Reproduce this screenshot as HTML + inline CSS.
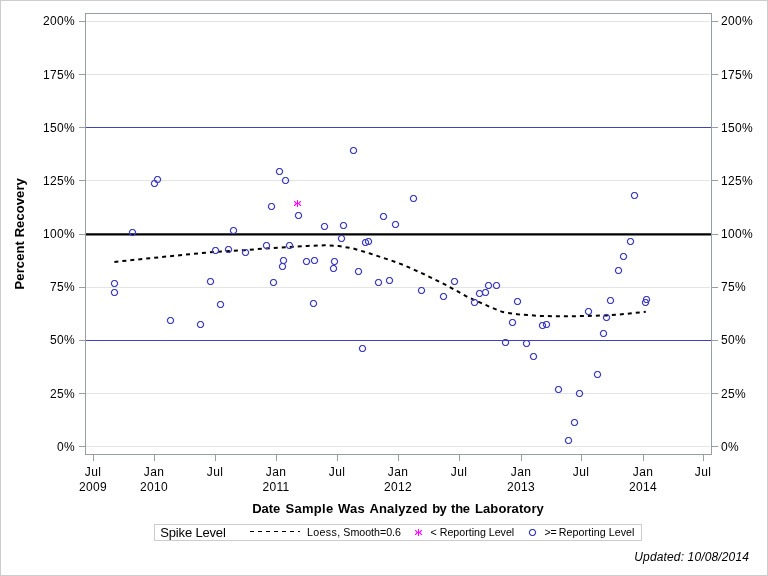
<!DOCTYPE html>
<html><head><meta charset="utf-8"><title>Percent Recovery</title>
<style>
html,body{margin:0;padding:0;background:#fff;}
body{width:768px;height:576px;overflow:hidden;}
svg{display:block;position:absolute;left:0;top:0;will-change:transform;}
text{font-family:"Liberation Sans",sans-serif;fill:#000;}
.tk{font-size:12px;letter-spacing:0.33px;}
.lg{font-size:10.67px;}
</style></head><body>
<svg width="768" height="576" viewBox="0 0 768 576">
<rect x="0" y="0" width="768" height="576" fill="#fff"/>
<rect x="0.5" y="0.5" width="767" height="575" fill="none" stroke="#cdcdcd" stroke-width="1" shape-rendering="crispEdges"/>

<g shape-rendering="crispEdges" stroke-width="1">
<line x1="86" x2="710" y1="446.5" y2="446.5" stroke="#e4e4e4"/>
<line x1="86" x2="710" y1="393.5" y2="393.5" stroke="#e4e4e4"/>
<line x1="86" x2="710" y1="287.5" y2="287.5" stroke="#e4e4e4"/>
<line x1="86" x2="710" y1="180.5" y2="180.5" stroke="#e4e4e4"/>
<line x1="86" x2="710" y1="74.5" y2="74.5" stroke="#e4e4e4"/>
<line x1="86" x2="710" y1="21.5" y2="21.5" stroke="#e4e4e4"/>
<line x1="86" x2="711" y1="340.5" y2="340.5" stroke="#4040c0"/>
<line x1="86" x2="711" y1="127.5" y2="127.5" stroke="#4040c0"/>
<line x1="86" x2="711" y1="234.35" y2="234.35" stroke="#000" stroke-width="2.1" shape-rendering="auto"/>
<rect x="85.5" y="13.5" width="626" height="441" fill="none" stroke="#989ea1"/>
<line x1="79" x2="85" y1="446.5" y2="446.5" stroke="#989ea1"/>
<line x1="712" x2="718" y1="446.5" y2="446.5" stroke="#989ea1"/>
<line x1="79" x2="85" y1="393.5" y2="393.5" stroke="#989ea1"/>
<line x1="712" x2="718" y1="393.5" y2="393.5" stroke="#989ea1"/>
<line x1="79" x2="85" y1="340.5" y2="340.5" stroke="#989ea1"/>
<line x1="712" x2="718" y1="340.5" y2="340.5" stroke="#989ea1"/>
<line x1="79" x2="85" y1="287.5" y2="287.5" stroke="#989ea1"/>
<line x1="712" x2="718" y1="287.5" y2="287.5" stroke="#989ea1"/>
<line x1="79" x2="85" y1="234.5" y2="234.5" stroke="#989ea1"/>
<line x1="712" x2="718" y1="234.5" y2="234.5" stroke="#989ea1"/>
<line x1="79" x2="85" y1="180.5" y2="180.5" stroke="#989ea1"/>
<line x1="712" x2="718" y1="180.5" y2="180.5" stroke="#989ea1"/>
<line x1="79" x2="85" y1="127.5" y2="127.5" stroke="#989ea1"/>
<line x1="712" x2="718" y1="127.5" y2="127.5" stroke="#989ea1"/>
<line x1="79" x2="85" y1="74.5" y2="74.5" stroke="#989ea1"/>
<line x1="712" x2="718" y1="74.5" y2="74.5" stroke="#989ea1"/>
<line x1="79" x2="85" y1="21.5" y2="21.5" stroke="#989ea1"/>
<line x1="712" x2="718" y1="21.5" y2="21.5" stroke="#989ea1"/>
<line x1="93.5" x2="93.5" y1="455" y2="461" stroke="#989ea1"/>
<line x1="154.5" x2="154.5" y1="455" y2="461" stroke="#989ea1"/>
<line x1="215.5" x2="215.5" y1="455" y2="461" stroke="#989ea1"/>
<line x1="276.5" x2="276.5" y1="455" y2="461" stroke="#989ea1"/>
<line x1="337.5" x2="337.5" y1="455" y2="461" stroke="#989ea1"/>
<line x1="398.5" x2="398.5" y1="455" y2="461" stroke="#989ea1"/>
<line x1="459.5" x2="459.5" y1="455" y2="461" stroke="#989ea1"/>
<line x1="521.5" x2="521.5" y1="455" y2="461" stroke="#989ea1"/>
<line x1="581.5" x2="581.5" y1="455" y2="461" stroke="#989ea1"/>
<line x1="643.5" x2="643.5" y1="455" y2="461" stroke="#989ea1"/>
<line x1="703.5" x2="703.5" y1="455" y2="461" stroke="#989ea1"/>
</g>
<text class="tk" x="75" y="451" text-anchor="end">0%</text>
<text class="tk" x="721" y="451">0%</text>
<text class="tk" x="75" y="398" text-anchor="end">25%</text>
<text class="tk" x="721" y="398">25%</text>
<text class="tk" x="75" y="344" text-anchor="end">50%</text>
<text class="tk" x="721" y="344">50%</text>
<text class="tk" x="75" y="291" text-anchor="end">75%</text>
<text class="tk" x="721" y="291">75%</text>
<text class="tk" x="75" y="238" text-anchor="end">100%</text>
<text class="tk" x="721" y="238">100%</text>
<text class="tk" x="75" y="185" text-anchor="end">125%</text>
<text class="tk" x="721" y="185">125%</text>
<text class="tk" x="75" y="132" text-anchor="end">150%</text>
<text class="tk" x="721" y="132">150%</text>
<text class="tk" x="75" y="79" text-anchor="end">175%</text>
<text class="tk" x="721" y="79">175%</text>
<text class="tk" x="75" y="25" text-anchor="end">200%</text>
<text class="tk" x="721" y="25">200%</text>
<text class="tk" x="93.0" y="476" text-anchor="middle">Jul</text>
<text class="tk" x="93.0" y="491" text-anchor="middle">2009</text>
<text class="tk" x="154.0" y="476" text-anchor="middle">Jan</text>
<text class="tk" x="154.0" y="491" text-anchor="middle">2010</text>
<text class="tk" x="215.0" y="476" text-anchor="middle">Jul</text>
<text class="tk" x="276.0" y="476" text-anchor="middle">Jan</text>
<text class="tk" x="276.0" y="491" text-anchor="middle">2011</text>
<text class="tk" x="337.0" y="476" text-anchor="middle">Jul</text>
<text class="tk" x="398.0" y="476" text-anchor="middle">Jan</text>
<text class="tk" x="398.0" y="491" text-anchor="middle">2012</text>
<text class="tk" x="459.0" y="476" text-anchor="middle">Jul</text>
<text class="tk" x="521.0" y="476" text-anchor="middle">Jan</text>
<text class="tk" x="521.0" y="491" text-anchor="middle">2013</text>
<text class="tk" x="581.0" y="476" text-anchor="middle">Jul</text>
<text class="tk" x="643.0" y="476" text-anchor="middle">Jan</text>
<text class="tk" x="643.0" y="491" text-anchor="middle">2014</text>
<text class="tk" x="703.0" y="476" text-anchor="middle">Jul</text>
<path d="M114.4,261.9 L150.0,258.2 L180.0,255.2 L215.0,251.8 L245.0,250.2 L265.8,248.4 L286.7,247.1 L307.5,245.9 L324.2,245.3 L338.8,246.0 L353.3,248.5 L370.0,253.5 L390.8,260.4 L405.0,265.6 L425.8,275.0 L446.7,285.4 L467.5,296.9 L488.3,306.2 L502.9,312.1 L517.5,314.3 L540.4,316.0 L565.0,316.3 L585.8,316.0 L606.7,315.4 L627.5,313.8 L645.8,311.7" fill="none" stroke="#000" stroke-width="2" stroke-dasharray="4,4"/>
<g fill="none" stroke="#4040c0" stroke-width="1.2" stroke-linejoin="round">
<path d="M153.35,180.5 L155.65,180.5 L157.5,182.35 L157.5,184.65 L155.65,186.5 L153.35,186.5 L151.5,184.65 L151.5,182.35Z"/>
<path d="M156.35,176.5 L158.65,176.5 L160.5,178.35 L160.5,180.65 L158.65,182.5 L156.35,182.5 L154.5,180.65 L154.5,178.35Z"/>
<path d="M131.35,229.5 L133.65,229.5 L135.5,231.35 L135.5,233.65 L133.65,235.5 L131.35,235.5 L129.5,233.65 L129.5,231.35Z"/>
<path d="M232.35,227.5 L234.65,227.5 L236.5,229.35 L236.5,231.65 L234.65,233.5 L232.35,233.5 L230.5,231.65 L230.5,229.35Z"/>
<path d="M278.35,168.5 L280.65,168.5 L282.5,170.35 L282.5,172.65 L280.65,174.5 L278.35,174.5 L276.5,172.65 L276.5,170.35Z"/>
<path d="M284.35,177.5 L286.65,177.5 L288.5,179.35 L288.5,181.65 L286.65,183.5 L284.35,183.5 L282.5,181.65 L282.5,179.35Z"/>
<path d="M270.35,203.5 L272.65,203.5 L274.5,205.35 L274.5,207.65 L272.65,209.5 L270.35,209.5 L268.5,207.65 L268.5,205.35Z"/>
<path d="M297.35,212.5 L299.65,212.5 L301.5,214.35 L301.5,216.65 L299.65,218.5 L297.35,218.5 L295.5,216.65 L295.5,214.35Z"/>
<path d="M352.35,147.5 L354.65,147.5 L356.5,149.35 L356.5,151.65 L354.65,153.5 L352.35,153.5 L350.5,151.65 L350.5,149.35Z"/>
<path d="M323.35,223.5 L325.65,223.5 L327.5,225.35 L327.5,227.65 L325.65,229.5 L323.35,229.5 L321.5,227.65 L321.5,225.35Z"/>
<path d="M342.35,222.5 L344.65,222.5 L346.5,224.35 L346.5,226.65 L344.65,228.5 L342.35,228.5 L340.5,226.65 L340.5,224.35Z"/>
<path d="M382.35,213.5 L384.65,213.5 L386.5,215.35 L386.5,217.65 L384.65,219.5 L382.35,219.5 L380.5,217.65 L380.5,215.35Z"/>
<path d="M394.35,221.5 L396.65,221.5 L398.5,223.35 L398.5,225.65 L396.65,227.5 L394.35,227.5 L392.5,225.65 L392.5,223.35Z"/>
<path d="M412.35,195.5 L414.65,195.5 L416.5,197.35 L416.5,199.65 L414.65,201.5 L412.35,201.5 L410.5,199.65 L410.5,197.35Z"/>
<path d="M633.35,192.5 L635.65,192.5 L637.5,194.35 L637.5,196.65 L635.65,198.5 L633.35,198.5 L631.5,196.65 L631.5,194.35Z"/>
<path d="M113.35,280.5 L115.65,280.5 L117.5,282.35 L117.5,284.65 L115.65,286.5 L113.35,286.5 L111.5,284.65 L111.5,282.35Z"/>
<path d="M113.35,289.5 L115.65,289.5 L117.5,291.35 L117.5,293.65 L115.65,295.5 L113.35,295.5 L111.5,293.65 L111.5,291.35Z"/>
<path d="M169.35,317.5 L171.65,317.5 L173.5,319.35 L173.5,321.65 L171.65,323.5 L169.35,323.5 L167.5,321.65 L167.5,319.35Z"/>
<path d="M199.35,321.5 L201.65,321.5 L203.5,323.35 L203.5,325.65 L201.65,327.5 L199.35,327.5 L197.5,325.65 L197.5,323.35Z"/>
<path d="M209.35,278.5 L211.65,278.5 L213.5,280.35 L213.5,282.65 L211.65,284.5 L209.35,284.5 L207.5,282.65 L207.5,280.35Z"/>
<path d="M219.35,301.5 L221.65,301.5 L223.5,303.35 L223.5,305.65 L221.65,307.5 L219.35,307.5 L217.5,305.65 L217.5,303.35Z"/>
<path d="M214.35,247.5 L216.65,247.5 L218.5,249.35 L218.5,251.65 L216.65,253.5 L214.35,253.5 L212.5,251.65 L212.5,249.35Z"/>
<path d="M227.35,246.5 L229.65,246.5 L231.5,248.35 L231.5,250.65 L229.65,252.5 L227.35,252.5 L225.5,250.65 L225.5,248.35Z"/>
<path d="M244.35,249.5 L246.65,249.5 L248.5,251.35 L248.5,253.65 L246.65,255.5 L244.35,255.5 L242.5,253.65 L242.5,251.35Z"/>
<path d="M265.35,242.5 L267.65,242.5 L269.5,244.35 L269.5,246.65 L267.65,248.5 L265.35,248.5 L263.5,246.65 L263.5,244.35Z"/>
<path d="M288.35,242.5 L290.65,242.5 L292.5,244.35 L292.5,246.65 L290.65,248.5 L288.35,248.5 L286.5,246.65 L286.5,244.35Z"/>
<path d="M282.35,257.5 L284.65,257.5 L286.5,259.35 L286.5,261.65 L284.65,263.5 L282.35,263.5 L280.5,261.65 L280.5,259.35Z"/>
<path d="M281.35,263.5 L283.65,263.5 L285.5,265.35 L285.5,267.65 L283.65,269.5 L281.35,269.5 L279.5,267.65 L279.5,265.35Z"/>
<path d="M272.35,279.5 L274.65,279.5 L276.5,281.35 L276.5,283.65 L274.65,285.5 L272.35,285.5 L270.5,283.65 L270.5,281.35Z"/>
<path d="M305.35,258.5 L307.65,258.5 L309.5,260.35 L309.5,262.65 L307.65,264.5 L305.35,264.5 L303.5,262.65 L303.5,260.35Z"/>
<path d="M313.35,257.5 L315.65,257.5 L317.5,259.35 L317.5,261.65 L315.65,263.5 L313.35,263.5 L311.5,261.65 L311.5,259.35Z"/>
<path d="M312.35,300.5 L314.65,300.5 L316.5,302.35 L316.5,304.65 L314.65,306.5 L312.35,306.5 L310.5,304.65 L310.5,302.35Z"/>
<path d="M333.35,258.5 L335.65,258.5 L337.5,260.35 L337.5,262.65 L335.65,264.5 L333.35,264.5 L331.5,262.65 L331.5,260.35Z"/>
<path d="M332.35,265.5 L334.65,265.5 L336.5,267.35 L336.5,269.65 L334.65,271.5 L332.35,271.5 L330.5,269.65 L330.5,267.35Z"/>
<path d="M340.35,235.5 L342.65,235.5 L344.5,237.35 L344.5,239.65 L342.65,241.5 L340.35,241.5 L338.5,239.65 L338.5,237.35Z"/>
<path d="M357.35,268.5 L359.65,268.5 L361.5,270.35 L361.5,272.65 L359.65,274.5 L357.35,274.5 L355.5,272.65 L355.5,270.35Z"/>
<path d="M364.35,239.5 L366.65,239.5 L368.5,241.35 L368.5,243.65 L366.65,245.5 L364.35,245.5 L362.5,243.65 L362.5,241.35Z"/>
<path d="M367.35,238.5 L369.65,238.5 L371.5,240.35 L371.5,242.65 L369.65,244.5 L367.35,244.5 L365.5,242.65 L365.5,240.35Z"/>
<path d="M377.35,279.5 L379.65,279.5 L381.5,281.35 L381.5,283.65 L379.65,285.5 L377.35,285.5 L375.5,283.65 L375.5,281.35Z"/>
<path d="M388.35,277.5 L390.65,277.5 L392.5,279.35 L392.5,281.65 L390.65,283.5 L388.35,283.5 L386.5,281.65 L386.5,279.35Z"/>
<path d="M420.35,287.5 L422.65,287.5 L424.5,289.35 L424.5,291.65 L422.65,293.5 L420.35,293.5 L418.5,291.65 L418.5,289.35Z"/>
<path d="M442.35,293.5 L444.65,293.5 L446.5,295.35 L446.5,297.65 L444.65,299.5 L442.35,299.5 L440.5,297.65 L440.5,295.35Z"/>
<path d="M453.35,278.5 L455.65,278.5 L457.5,280.35 L457.5,282.65 L455.65,284.5 L453.35,284.5 L451.5,282.65 L451.5,280.35Z"/>
<path d="M473.35,299.5 L475.65,299.5 L477.5,301.35 L477.5,303.65 L475.65,305.5 L473.35,305.5 L471.5,303.65 L471.5,301.35Z"/>
<path d="M478.35,290.5 L480.65,290.5 L482.5,292.35 L482.5,294.65 L480.65,296.5 L478.35,296.5 L476.5,294.65 L476.5,292.35Z"/>
<path d="M484.35,289.5 L486.65,289.5 L488.5,291.35 L488.5,293.65 L486.65,295.5 L484.35,295.5 L482.5,293.65 L482.5,291.35Z"/>
<path d="M487.35,282.5 L489.65,282.5 L491.5,284.35 L491.5,286.65 L489.65,288.5 L487.35,288.5 L485.5,286.65 L485.5,284.35Z"/>
<path d="M495.35,282.5 L497.65,282.5 L499.5,284.35 L499.5,286.65 L497.65,288.5 L495.35,288.5 L493.5,286.65 L493.5,284.35Z"/>
<path d="M516.35,298.5 L518.65,298.5 L520.5,300.35 L520.5,302.65 L518.65,304.5 L516.35,304.5 L514.5,302.65 L514.5,300.35Z"/>
<path d="M511.35,319.5 L513.65,319.5 L515.5,321.35 L515.5,323.65 L513.65,325.5 L511.35,325.5 L509.5,323.65 L509.5,321.35Z"/>
<path d="M541.35,322.5 L543.65,322.5 L545.5,324.35 L545.5,326.65 L543.65,328.5 L541.35,328.5 L539.5,326.65 L539.5,324.35Z"/>
<path d="M545.35,321.5 L547.65,321.5 L549.5,323.35 L549.5,325.65 L547.65,327.5 L545.35,327.5 L543.5,325.65 L543.5,323.35Z"/>
<path d="M504.35,339.5 L506.65,339.5 L508.5,341.35 L508.5,343.65 L506.65,345.5 L504.35,345.5 L502.5,343.65 L502.5,341.35Z"/>
<path d="M525.35,340.5 L527.65,340.5 L529.5,342.35 L529.5,344.65 L527.65,346.5 L525.35,346.5 L523.5,344.65 L523.5,342.35Z"/>
<path d="M629.35,238.5 L631.65,238.5 L633.5,240.35 L633.5,242.65 L631.65,244.5 L629.35,244.5 L627.5,242.65 L627.5,240.35Z"/>
<path d="M622.35,253.5 L624.65,253.5 L626.5,255.35 L626.5,257.65 L624.65,259.5 L622.35,259.5 L620.5,257.65 L620.5,255.35Z"/>
<path d="M617.35,267.5 L619.65,267.5 L621.5,269.35 L621.5,271.65 L619.65,273.5 L617.35,273.5 L615.5,271.65 L615.5,269.35Z"/>
<path d="M609.35,297.5 L611.65,297.5 L613.5,299.35 L613.5,301.65 L611.65,303.5 L609.35,303.5 L607.5,301.65 L607.5,299.35Z"/>
<path d="M645.35,296.5 L647.65,296.5 L649.5,298.35 L649.5,300.65 L647.65,302.5 L645.35,302.5 L643.5,300.65 L643.5,298.35Z"/>
<path d="M644.35,299.5 L646.65,299.5 L648.5,301.35 L648.5,303.65 L646.65,305.5 L644.35,305.5 L642.5,303.65 L642.5,301.35Z"/>
<path d="M587.35,308.5 L589.65,308.5 L591.5,310.35 L591.5,312.65 L589.65,314.5 L587.35,314.5 L585.5,312.65 L585.5,310.35Z"/>
<path d="M605.35,314.5 L607.65,314.5 L609.5,316.35 L609.5,318.65 L607.65,320.5 L605.35,320.5 L603.5,318.65 L603.5,316.35Z"/>
<path d="M602.35,330.5 L604.65,330.5 L606.5,332.35 L606.5,334.65 L604.65,336.5 L602.35,336.5 L600.5,334.65 L600.5,332.35Z"/>
<path d="M532.35,353.5 L534.65,353.5 L536.5,355.35 L536.5,357.65 L534.65,359.5 L532.35,359.5 L530.5,357.65 L530.5,355.35Z"/>
<path d="M557.35,386.5 L559.65,386.5 L561.5,388.35 L561.5,390.65 L559.65,392.5 L557.35,392.5 L555.5,390.65 L555.5,388.35Z"/>
<path d="M596.35,371.5 L598.65,371.5 L600.5,373.35 L600.5,375.65 L598.65,377.5 L596.35,377.5 L594.5,375.65 L594.5,373.35Z"/>
<path d="M578.35,390.5 L580.65,390.5 L582.5,392.35 L582.5,394.65 L580.65,396.5 L578.35,396.5 L576.5,394.65 L576.5,392.35Z"/>
<path d="M573.35,419.5 L575.65,419.5 L577.5,421.35 L577.5,423.65 L575.65,425.5 L573.35,425.5 L571.5,423.65 L571.5,421.35Z"/>
<path d="M567.35,437.5 L569.65,437.5 L571.5,439.35 L571.5,441.65 L569.65,443.5 L567.35,443.5 L565.5,441.65 L565.5,439.35Z"/>
<path d="M361.35,345.5 L363.65,345.5 L365.5,347.35 L365.5,349.65 L363.65,351.5 L361.35,351.5 L359.5,349.65 L359.5,347.35Z"/>
</g>
<g stroke="#ff00ff" fill="none" stroke-linecap="square" stroke-linejoin="round"><line x1="297.5" y1="200.5" x2="297.5" y2="206.5" stroke-width="1" /><path stroke-width="1.15" d="M294.6,201.6 L296.5,203.5 L298.5,203.5 L300.4,205.4 M294.6,205.4 L296.5,203.5 M298.5,203.5 L300.4,201.6"/></g>
<text x="252.2" y="512.5" font-size="13px" font-weight="bold" textLength="28.0" lengthAdjust="spacing">Date</text>
<text x="285.6" y="512.5" font-size="13px" font-weight="bold" textLength="47.6" lengthAdjust="spacing">Sample</text>
<text x="338.0" y="512.5" font-size="13px" font-weight="bold" textLength="26.8" lengthAdjust="spacing">Was</text>
<text x="369.5" y="512.5" font-size="13px" font-weight="bold" textLength="58.0" lengthAdjust="spacing">Analyzed</text>
<text x="432.2" y="512.5" font-size="13px" font-weight="bold" textLength="14.6" lengthAdjust="spacing">by</text>
<text x="451.1" y="512.5" font-size="13px" font-weight="bold" textLength="19.0" lengthAdjust="spacing">the</text>
<text x="475.0" y="512.5" font-size="13px" font-weight="bold" textLength="68.8" lengthAdjust="spacing">Laboratory</text>
<text transform="translate(24.1,233.8) rotate(-90)" text-anchor="middle" font-size="13px" font-weight="bold" textLength="111.2" lengthAdjust="spacing">Percent Recovery</text>
<rect x="154.5" y="524.5" width="487" height="16" fill="#fff" stroke="#cdcdcd" shape-rendering="crispEdges"/>
<text x="160.3" y="536.6" font-size="13px" textLength="65.5" lengthAdjust="spacing">Spike Level</text>
<line x1="250" x2="300" y1="531.5" y2="531.5" stroke="#000" stroke-width="1" stroke-dasharray="4,4"/>
<g stroke="#ff00ff" fill="none" stroke-linecap="square" stroke-linejoin="round"><line x1="418.5" y1="529.5" x2="418.5" y2="535.5" stroke-width="1" /><path stroke-width="1.15" d="M415.6,530.6 L417.5,532.5 L419.5,532.5 L421.4,534.4 M415.6,534.4 L417.5,532.5 M419.5,532.5 L421.4,530.6"/></g>
<g fill="none" stroke="#4040c0" stroke-width="1.2" stroke-linejoin="round"><path d="M531.35,529.5 L533.65,529.5 L535.5,531.35 L535.5,533.65 L533.65,535.5 L531.35,535.5 L529.5,533.65 L529.5,531.35Z"/></g>
<text class="lg" transform="translate(307.0,535.7) scale(1,1.045)" textLength="33.1" lengthAdjust="spacing">Loess,</text>
<text class="lg" transform="translate(343.3,535.7) scale(1,1.045)" textLength="57.7" lengthAdjust="spacing">Smooth=0.6</text>
<text class="lg" transform="translate(430.6,535.7) scale(1,1.045)" textLength="83.6" lengthAdjust="spacing">&lt; Reporting Level</text>
<text class="lg" transform="translate(544.5,535.7) scale(1,1.045)" textLength="12.3" lengthAdjust="spacing">&gt;=</text>
<text class="lg" transform="translate(558.8,535.7) scale(1,1.045)" textLength="75.7" lengthAdjust="spacing">Reporting Level</text>
<text x="634.3" y="560.8" font-size="12px" font-style="italic" textLength="114.6" lengthAdjust="spacing">Updated: 10/08/2014</text>
</svg></body></html>
